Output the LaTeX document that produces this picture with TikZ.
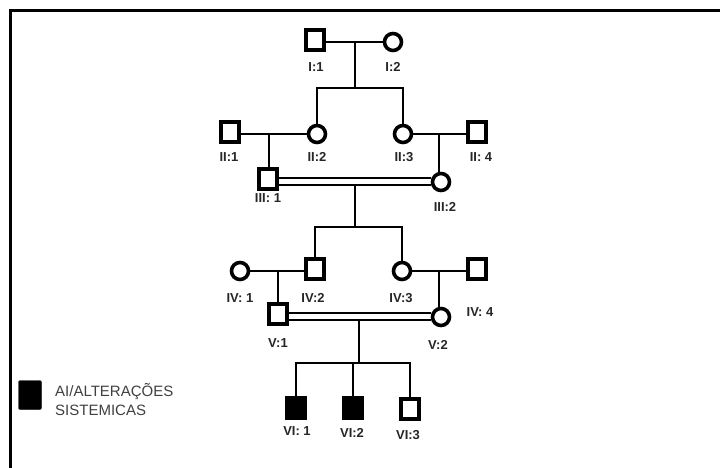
\documentclass[tikz,border=0pt]{standalone}
\usepackage{fontspec}
\setmainfont{Liberation Sans}
\begin{document}
\begin{tikzpicture}[x=1pt,y=-1pt,
  male/.style={draw,rectangle,line width=3.6pt,minimum width=17.5pt,minimum height=20.5pt,inner sep=0pt},
  female/.style={draw,circle,line width=3.6pt,minimum size=17pt,inner sep=0pt},
  affected/.style={fill=black},
  rel/.style={line width=2.2pt},
  lab/.style={font=\fontsize{13}{14}\selectfont\bfseries,text=black!85,inner sep=0pt},
  legendtext/.style={font=\fontsize{15}{19}\selectfont,text=black!75,align=left,inner sep=0pt,anchor=west}]
\useasboundingbox (0,0) rectangle (720,468);
% frame
\draw[line width=3pt] (10,468) -- (10,11) -- (720,11);

% generation I
\node[male] (I1) at (315,40) {};
\node[female] (I2) at (393,42) {};
\node[lab] (lI1) at (316,67) {I:1};
\node[lab] (lI2) at (393,67) {I:2};
\draw[rel] (I1.east |- I2) -- (I2);
\coordinate (mI) at (355,42);
\coordinate (sI) at (355,88);
\draw[rel] (mI) -- (sI);

% generation II
\node[male] (II1) at (230,132) {};
\node[female] (II2) at (317,134) {};
\node[female] (II3) at (403,134) {};
\node[male] (II4) at (477,132) {};
\node[lab] (lII1) at (229,157) {II:1};
\node[lab] (lII2) at (317,157) {II:2};
\node[lab] (lII3) at (404,157) {II:3};
\node[lab] (lII4) at (481,157) {II: 4};
\draw[rel] (sI) -| (II2);
\draw[rel] (sI) -| (II3);
\draw[rel] (II1.east |- II2) -- (II2);
\draw[rel] (II3) -- (II4.west |- II3);
\coordinate (mII1) at (269,134);
\coordinate (mII2) at (439,134);

% generation III
\node[male] (III1) at (268,179) {};
\node[female] (III2) at (441,182) {};
\node[lab] (lIII1) at (268,198) {III: 1};
\node[lab] (lIII2) at (445,207) {III:2};
\draw[rel] (mII1) -- (mII1 |- III1.north);
\draw[rel] (mII2) -- (mII2 |- III2.north);
\coordinate (dIIIa) at (III1.east |- 0,178);
\coordinate (dIIIb) at (III1.east |- 0,185);
\draw[rel] (dIIIa) -- (dIIIa -| III2.west);
\draw[rel] (dIIIb) -- (dIIIb -| III2.west);
\coordinate (mIII) at (355,185);
\coordinate (sIII) at (355,227);
\draw[rel] (mIII) -- (sIII);

% generation IV
\node[female] (IV1) at (240,271) {};
\node[male] (IV2) at (315,269) {};
\node[female] (IV3) at (402,271) {};
\node[male] (IV4) at (477,269) {};
\node[lab] (lIV1) at (240,298) {IV: 1};
\node[lab] (lIV2) at (313,298) {IV:2};
\node[lab] (lIV3) at (401,298) {IV:3};
\node[lab] (lIV4) at (480,312) {IV: 4};
\draw[rel] (sIII) -| (IV2);
\draw[rel] (sIII) -| (IV3);
\draw[rel] (IV1) -- (IV2.west |- IV1);
\draw[rel] (IV3) -- (IV4.west |- IV3);
\coordinate (mIV1) at (278,271);
\coordinate (mIV2) at (439,271);

% generation V
\node[male] (V1) at (278,314) {};
\node[female] (V2) at (441,317) {};
\node[lab] (lV1) at (278,343) {V:1};
\node[lab] (lV2) at (438,345) {V:2};
\draw[rel] (mIV1) -- (mIV1 |- V1.north);
\draw[rel] (mIV2) -- (mIV2 |- V2.north);
\coordinate (dVa) at (V1.east |- 0,313);
\coordinate (dVb) at (V1.east |- 0,320);
\draw[rel] (dVa) -- (dVa -| V2.west);
\draw[rel] (dVb) -- (dVb -| V2.west);
\coordinate (mV) at (359,320);
\coordinate (sV) at (359,363);
\draw[rel] (mV) -- (sV);

% generation VI
\node[male,affected] (VI1) at (296,408) {};
\node[male,affected] (VI2) at (353,408) {};
\node[male] (VI3) at (410,409) {};
\node[lab] (lVI1) at (297,431) {VI: 1};
\node[lab] (lVI2) at (352,433) {VI:2};
\node[lab] (lVI3) at (408,435) {VI:3};
\draw[rel] (sV) -| (VI1);
\draw[rel] (sV) -| (VI3);
\draw[rel] (VI2.north |- sV) -- (VI2);

% legend
\node[draw=black,fill=black,rounded corners=1.5pt,minimum width=23pt,minimum height=29pt,inner sep=0pt] (leg) at (30,395) {};
\node[legendtext] (legt) at (55,399) {AI/ALTERAÇÕES\\SISTEMICAS};
\end{tikzpicture}
\end{document}
